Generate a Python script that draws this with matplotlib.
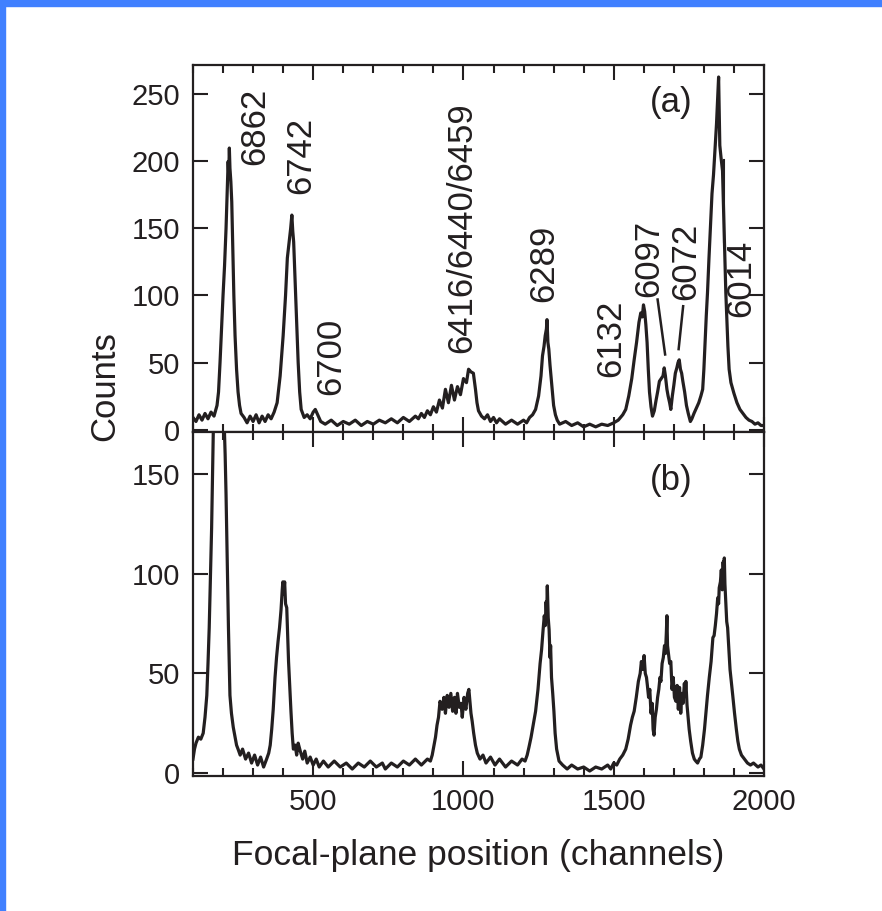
import matplotlib
matplotlib.use("Agg")
import matplotlib.pyplot as plt
from matplotlib.ticker import MultipleLocator
from matplotlib.patches import Rectangle

plt.rcParams['font.family'] = ['Liberation Sans', 'DejaVu Sans']

# Espectro (a): canal, cuentas
canal_a = [100, 110, 120, 130, 140, 150, 160, 170, 180, 185, 190, 195, 200, 205, 210, 214, 217, 219, 221, 223,
           226, 229, 232, 236, 240, 245, 250, 255, 260, 270, 280, 290, 300, 310, 320, 330, 340, 350, 360, 370,
           380, 390, 400, 408, 414, 420, 425, 429, 432, 435, 440, 445, 450, 455, 460, 470, 480, 490, 500, 507,
           515, 525, 540, 560, 580, 600, 620, 640, 660, 680, 700, 720, 740, 760, 780, 800, 820, 840, 850, 860,
           870, 880, 890, 900, 910, 920, 930, 940, 950, 960, 970, 980, 990, 1000, 1010, 1017, 1025, 1033, 1040, 1045,
           1050, 1060, 1070, 1080, 1090, 1100, 1110, 1120, 1140, 1160, 1180, 1200, 1210, 1220, 1230, 1240, 1250, 1258, 1263, 1268,
           1272, 1276, 1278, 1281, 1284, 1288, 1292, 1296, 1300, 1306, 1312, 1320, 1340, 1360, 1380, 1400, 1420, 1440, 1460, 1480,
           1500, 1515, 1530, 1540, 1550, 1560, 1568, 1576, 1584, 1590, 1595, 1599, 1603, 1607, 1611, 1615, 1619, 1624, 1629, 1635,
           1641, 1646, 1652, 1658, 1664, 1668, 1672, 1677, 1681, 1686, 1690, 1695, 1700, 1705, 1710, 1714, 1718, 1722, 1726, 1730,
           1736, 1742, 1748, 1755, 1760, 1767, 1775, 1783, 1790, 1796, 1800, 1804, 1808, 1812, 1817, 1822, 1827, 1832, 1838, 1842,
           1846, 1849, 1851, 1853, 1857, 1862, 1866, 1870, 1873, 1877, 1880, 1884, 1890, 1900, 1910, 1920, 1930, 1940, 1950, 1960,
           1970, 1980, 1990, 2000]
cuentas_a = [9, 6, 11, 7, 12, 8, 13, 10, 18, 28, 50, 75, 100, 122, 150, 180, 200, 190, 210, 195,
             185, 170, 140, 100, 70, 45, 28, 18, 12, 9, 5, 10, 6, 11, 5, 10, 6, 11, 8, 13,
             20, 40, 70, 100, 128, 140, 150, 160, 148, 140, 110, 80, 50, 28, 15, 9, 11, 8, 13, 15,
             11, 6, 4, 7, 3, 6, 4, 7, 3, 6, 4, 7, 5, 8, 5, 9, 6, 10, 8, 12,
             9, 14, 11, 17, 13, 22, 16, 30, 20, 33, 22, 32, 26, 38, 35, 45, 43, 42, 30, 20,
             14, 10, 8, 11, 6, 9, 5, 8, 4, 7, 4, 7, 5, 9, 11, 15, 25, 40, 55, 62,
             70, 75, 82, 65, 60, 48, 38, 28, 18, 11, 7, 4, 6, 3, 5, 2, 4, 2, 4, 3,
             5, 7, 11, 15, 25, 38, 52, 65, 80, 87, 84, 93, 88, 78, 65, 45, 28, 17, 10, 14,
             22, 28, 36, 38, 40, 46, 40, 30, 25, 20, 15, 25, 33, 42, 46, 50, 52, 45, 42, 36,
             28, 18, 12, 6, 8, 12, 16, 20, 25, 30, 45, 65, 85, 102, 128, 152, 176, 190, 213, 228,
             248, 263, 235, 212, 203, 193, 160, 128, 102, 80, 62, 45, 35, 27, 20, 15, 12, 9, 7, 6,
             4, 5, 3, 3]

# Espectro (b): canal, cuentas
canal_b = [100, 105, 110, 118, 126, 134, 140, 146, 150, 154, 158, 162, 165, 168, 172, 178, 184, 190, 197, 203,
           207, 210, 212, 215, 218, 221, 223, 228, 234, 240, 245, 250, 257, 265, 275, 285, 295, 305, 315, 325,
           335, 345, 352, 357, 362, 367, 373, 378, 383, 388, 393, 397, 399, 402, 405, 408, 412, 415, 418, 422,
           426, 430, 434, 440, 445, 450, 457, 465, 472, 480, 490, 500, 510, 520, 534, 550, 570, 590, 610, 630,
           650, 670, 690, 710, 730, 740, 760, 780, 800, 820, 840, 860, 880, 890, 896, 902, 907, 912, 917, 922,
           929, 935, 940, 946, 952, 958, 964, 970, 975, 980, 986, 992, 996, 1002, 1008, 1014, 1018, 1022, 1025, 1029,
           1034, 1040, 1046, 1055, 1065, 1075, 1090, 1105, 1120, 1140, 1160, 1180, 1195, 1205, 1212, 1218, 1225, 1232, 1240, 1248,
           1255, 1260, 1265, 1269, 1272, 1275, 1277, 1279, 1282, 1285, 1288, 1290, 1293, 1297, 1301, 1305, 1310, 1318, 1330, 1345,
           1360, 1380, 1400, 1420, 1440, 1460, 1480, 1490, 1500, 1510, 1520, 1530, 1540, 1548, 1556, 1562, 1568, 1575, 1582, 1588,
           1592, 1597, 1601, 1605, 1609, 1612, 1616, 1620, 1624, 1628, 1631, 1634, 1638, 1642, 1646, 1650, 1654, 1657, 1661, 1665,
           1669, 1672, 1675, 1677, 1679, 1682, 1686, 1690, 1694, 1698, 1702, 1707, 1711, 1715, 1719, 1723, 1727, 1731, 1735, 1738,
           1740, 1744, 1748, 1751, 1756, 1762, 1768, 1773, 1779, 1785, 1790, 1796, 1802, 1808, 1812, 1818, 1824, 1830, 1834, 1838,
           1842, 1846, 1849, 1851, 1855, 1858, 1861, 1864, 1866, 1868, 1870, 1873, 1876, 1879, 1883, 1887, 1892, 1896, 1902, 1908,
           1913, 1918, 1925, 1935, 1945, 1955, 1965, 1980, 1990, 2000]
cuentas_b = [7, 12, 15, 18, 17, 20, 28, 39, 55, 73, 98, 123, 150, 175, 210, 240, 240, 220, 200, 180,
             160, 140, 123, 98, 73, 52, 39, 30, 23, 18, 14, 12, 9, 12, 7, 10, 5, 9, 4, 8,
             3, 7, 10, 14, 22, 32, 48, 58, 66, 73, 82, 92, 96, 90, 96, 85, 83, 70, 56, 43,
             31, 20, 12, 14, 9, 15, 11, 7, 11, 5, 8, 4, 7, 3, 6, 3, 6, 3, 5, 2,
             5, 3, 6, 3, 5, 2, 5, 3, 6, 4, 7, 4, 7, 6, 9, 14, 18, 24, 28, 36,
             32, 38, 30, 39, 33, 40, 31, 38, 30, 40, 33, 35, 28, 38, 32, 40, 42, 35, 30, 26,
             20, 14, 10, 7, 9, 5, 8, 4, 7, 3, 6, 4, 7, 6, 9, 13, 18, 24, 31, 42,
             55, 62, 72, 79, 74, 86, 80, 94, 78, 72, 58, 64, 48, 40, 31, 20, 12, 6, 4, 2,
             4, 2, 3, 1, 3, 2, 4, 2, 5, 4, 7, 9, 12, 17, 24, 28, 31, 38, 46, 50,
             56, 52, 59, 50, 48, 44, 38, 42, 30, 35, 22, 19, 28, 32, 38, 42, 48, 46, 55, 58,
             64, 60, 70, 79, 64, 60, 55, 56, 42, 48, 38, 36, 44, 32, 43, 30, 40, 35, 45, 40,
             46, 34, 27, 22, 16, 10, 7, 6, 5, 7, 8, 14, 22, 32, 39, 48, 56, 68, 69, 74,
             80, 88, 85, 93, 96, 102, 92, 106, 100, 108, 95, 85, 76, 73, 62, 52, 45, 39, 30, 22,
             16, 12, 9, 7, 5, 4, 5, 3, 4, 2]

# Etiquetas de los picos en (a)
etiquetas = ["6862", "6742", "6700", "6416/6440/6459", "6289", "6132", "6097", "6072", "6014"]
etiq_x = [307, 457, 557, 993, 1267, 1490, 1617, 1740, 1923]
etiq_y = [197, 176, 26, 57, 95, 39, 99, 97, 84]

color_linea = '#231f20'

fig = plt.figure(figsize=(8.82, 9.11), dpi=100)
# borde azul arriba e izquierda
fig.patches.append(Rectangle((0, 1 - 6 / 911), 1, 6 / 911, transform=fig.transFigure, color='#4080ff', zorder=-1))
fig.patches.append(Rectangle((0, 0), 5 / 882, 1, transform=fig.transFigure, color='#4080ff', zorder=-1))

ax1 = fig.add_axes([0.2188, 0.5263, 0.6474, 0.4024])
ax2 = fig.add_axes([0.2188, 0.1482, 0.6474, 0.3781])

ax1.plot(canal_a, cuentas_a, color=color_linea, lw=2.3)
ax2.plot(canal_b, cuentas_b, color=color_linea, lw=2.3)

ax1.set_ylim(-1.5, 272)
ax2.set_ylim(-1.5, 171.5)

for ax in [ax1, ax2]:
    ax.set_xlim(100, 2000)
    ax.xaxis.set_major_locator(MultipleLocator(500))
    ax.xaxis.set_minor_locator(MultipleLocator(100))
    ax.yaxis.set_major_locator(MultipleLocator(50))
    ax.tick_params(which='both', direction='in', top=True, right=True, width=1.5, colors=color_linea)
    ax.tick_params(which='major', length=11, labelsize=21, pad=9)
    ax.tick_params(which='minor', length=6)
    for s in ax.spines.values():
        s.set_linewidth(1.6)
        s.set_color(color_linea)

ax1.tick_params(labelbottom=False)

# etiquetas de energía
for txt, x, y in zip(etiquetas, etiq_x, etiq_y):
    ax1.text(x, y, txt, rotation=90, ha='center', va='bottom', fontsize=25, color=color_linea)

# líneas guía
ax1.plot([1646, 1671], [97, 56], color=color_linea, lw=1.8)
ax1.plot([1731, 1716], [92, 60], color=color_linea, lw=1.8)
ax1.plot([1868, 1868], [201, 140], color=color_linea, lw=1.5)

ax1.text(1690, 244, "(a)", ha='center', va='center', fontsize=25, color=color_linea)
ax2.text(1690, 147, "(b)", ha='center', va='center', fontsize=25, color=color_linea)

ax2.set_xlabel("Focal-plane position (channels)", fontsize=25.5, labelpad=16, color=color_linea)
fig.text(105 / 882, 1 - 386 / 911, "Counts", rotation=90, ha='center', va='center', fontsize=25, color=color_linea)

plt.savefig("out.png", dpi=100)
